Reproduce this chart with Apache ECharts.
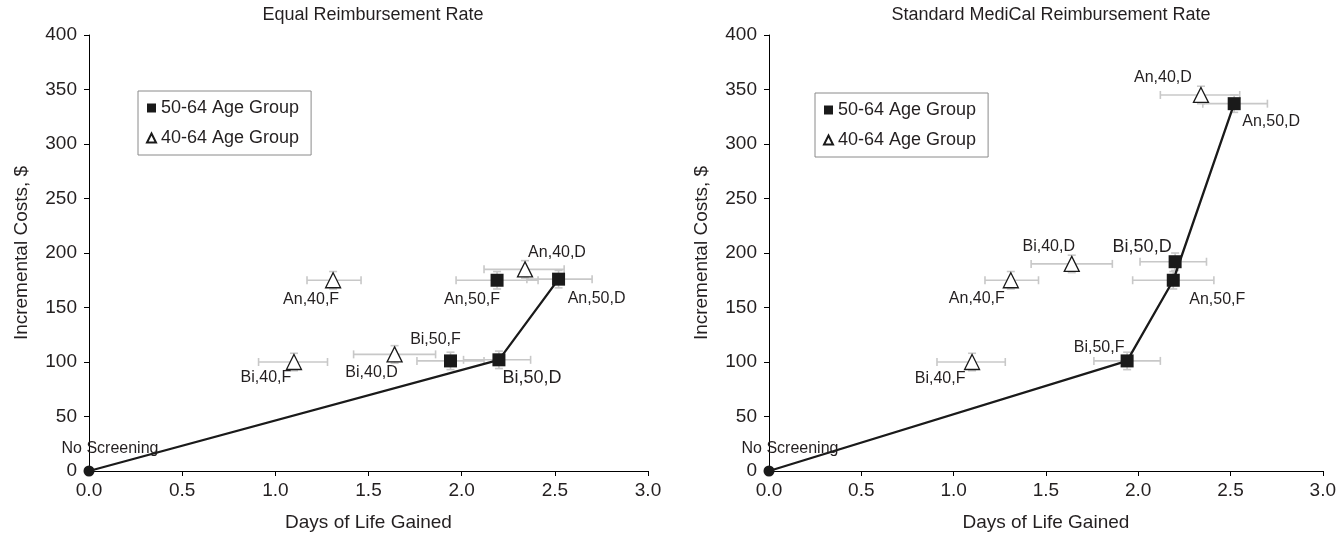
<!DOCTYPE html>
<html>
<head>
<meta charset="utf-8">
<script src="https://cdn.jsdelivr.net/npm/echarts@6/dist/echarts.min.js"></script>
<style>
  html, body { margin: 0; padding: 0; background: #ffffff; }
  #chart { width: 1339px; height: 537px; }
</style>
</head>
<body>
<div id="chart"></div>
<script>
// ---------------- DATA ----------------
const panelTitles = ['Equal Reimbursement Rate', 'Standard MediCal Reimbursement Rate'];
const xAxisName = 'Days of Life Gained';
const yAxisName = 'Incremental Costs, $';
const legendNames = ['50-64 Age Group', '40-64 Age Group'];
const xTicks = [0, 0.5, 1.0, 1.5, 2.0, 2.5, 3.0];
const yTicks = [0, 50, 100, 150, 200, 250, 300, 350, 400];

const baselineName = 'No Screening';
const baselineDays = 0;
const baselineCost = 0;

const strategies50 = ['Bi,50,F', 'Bi,50,D', 'An,50,F', 'An,50,D'];
const days50 = [1.94, 2.20, 2.19, 2.52];
const daysLow50 = [1.76, 2.01, 1.97, 2.35];
const daysHigh50 = [2.12, 2.37, 2.41, 2.70];

const strategies40 = ['Bi,40,F', 'Bi,40,D', 'An,40,F', 'An,40,D'];
const days40 = [1.10, 1.64, 1.31, 2.34];
const daysLow40 = [0.91, 1.42, 1.17, 2.12];
const daysHigh40 = [1.28, 1.86, 1.46, 2.55];

// incremental costs per panel
const equalCost50 = [101, 102, 175, 176];
const equalCost40 = [100, 107, 175, 185];
const medicalCost50 = [101, 192, 175, 337];
const medicalCost40 = [100, 190, 175, 345];
const costErr50 = [8, 8, 8, 8];
const costErr40 = [8, 8, 8, 8];

// efficient frontier (strategy names, in order)
const equalFrontier = ['No Screening', 'Bi,50,D', 'An,50,D'];
const medicalFrontier = ['No Screening', 'Bi,50,F', 'An,50,F', 'An,50,D'];

// ---------------- STYLE / LAYOUT ----------------
const TXT = '#231f20';
const FONT = 'Liberation Sans, Arial, sans-serif';
const grids = [
  { left: 89, top: 35, width: 559, height: 440 },
  { left: 769, top: 35, width: 555, height: 440 }
];
const titleCenters = [368, 1046];
const legendPos = [{ left: 138, top: 91 }, { left: 815, top: 93 }];
// label offsets [dx, dy] relative to the marker centre, per panel
const labelOffsets = [
  {
    'Bi,50,F': [-15, -21], 'Bi,50,D': [33, 18], 'An,50,F': [-25, 19], 'An,50,D': [38, 19],
    'Bi,40,F': [-28, 16], 'Bi,40,D': [-23, 18], 'An,40,F': [-22, 19], 'An,40,D': [32, -17],
    'No Screening': [21, -22]
  },
  {
    'Bi,50,F': [-28, -13], 'Bi,50,D': [-33, -15], 'An,50,F': [44, 19], 'An,50,D': [37, 18],
    'Bi,40,F': [-32, 17], 'Bi,40,D': [-23, -17], 'An,40,F': [-34, 18], 'An,40,D': [-38, -17],
    'No Screening': [21, -22]
  }
];
const bigLabels = ['Bi,50,D'];

const panels = [
  { cost50: equalCost50, cost40: equalCost40, frontier: equalFrontier },
  { cost50: medicalCost50, cost40: medicalCost40, frontier: medicalFrontier }
];

function labelFor(p, name) {
  const off = labelOffsets[p][name];
  return {
    show: true,
    position: 'inside',
    offset: off,
    formatter: name,
    color: TXT,
    textBorderWidth: 0,
    textBorderColor: 'transparent',
    fontFamily: FONT,
    fontSize: bigLabels.indexOf(name) >= 0 ? 18 : 16
  };
}

function errorRender(params, api) {
  const x = api.value(0), y = api.value(1);
  const xl = api.value(2), xh = api.value(3), yl = api.value(4), yh = api.value(5);
  const a = api.coord([xl, y]), b = api.coord([xh, y]);
  const c = api.coord([x, yl]), d = api.coord([x, yh]);
  const cap = 4;
  const style = { stroke: '#c8c8c8', lineWidth: 1.6, fill: null };
  const seg = (x1, y1, x2, y2) => ({ type: 'line', shape: { x1, y1, x2, y2 }, style });
  return {
    type: 'group',
    children: [
      seg(a[0], a[1], b[0], b[1]),
      seg(a[0], a[1] - cap, a[0], a[1] + cap),
      seg(b[0], b[1] - cap, b[0], b[1] + cap),
      seg(c[0], c[1], d[0], d[1]),
      seg(c[0] - cap, c[1], c[0] + cap, c[1]),
      seg(d[0] - cap, d[1], d[0] + cap, d[1])
    ]
  };
}

const option = {
  backgroundColor: '#ffffff',
  animation: false,
  textStyle: { fontFamily: FONT, color: TXT },
  title: panelTitles.map((t, i) => ({
    text: t,
    left: titleCenters[i],
    top: 1,
    textAlign: 'center',
    textStyle: { fontFamily: FONT, fontSize: 18, fontWeight: 'normal', color: TXT }
  })),
  legend: legendPos.map((lp) => ({
    left: lp.left,
    top: lp.top,
    orient: 'vertical',
    data: [
      { name: legendNames[0], icon: 'rect' },
      { name: legendNames[1], icon: 'triangle' }
    ],
    itemWidth: 9,
    itemHeight: 9,
    itemGap: 12,
    padding: [8, 12, 8, 8],
    borderColor: '#8a8a8a',
    borderWidth: 1,
    selectedMode: false,
    textStyle: { fontFamily: FONT, fontSize: 18, color: TXT }
  })),
  grid: grids,
  xAxis: grids.map((g, i) => ({
    type: 'value',
    gridIndex: i,
    min: xTicks[0],
    max: xTicks[xTicks.length - 1],
    interval: xTicks[1] - xTicks[0],
    name: xAxisName,
    nameLocation: 'middle',
    nameGap: 42,
    nameTextStyle: { fontFamily: FONT, fontSize: 19, color: TXT },
    axisLine: { show: true, onZero: false, lineStyle: { color: '#000', width: 1 } },
    axisTick: { show: true, inside: false, length: 5, lineStyle: { color: '#000' } },
    axisLabel: { fontFamily: FONT, fontSize: 19, color: TXT, margin: 10,
      formatter: (v) => v.toFixed(1) },
    splitLine: { show: false }
  })),
  yAxis: grids.map((g, i) => ({
    type: 'value',
    gridIndex: i,
    min: yTicks[0],
    max: yTicks[yTicks.length - 1],
    interval: yTicks[1] - yTicks[0],
    name: yAxisName,
    nameLocation: 'middle',
    nameGap: 58,
    nameTextStyle: { fontFamily: FONT, fontSize: 19, color: TXT },
    axisLine: { show: true, onZero: false, lineStyle: { color: '#000', width: 1 } },
    axisTick: { show: true, inside: false, length: 5, lineStyle: { color: '#000' } },
    axisLabel: { fontFamily: FONT, fontSize: 19, color: TXT, margin: 12 },
    splitLine: { show: false }
  })),
  series: []
};

panels.forEach((pn, p) => {
  const lookup = { 'No Screening': [baselineDays, baselineCost] };
  strategies50.forEach((s, k) => { lookup[s] = [days50[k], pn.cost50[k]]; });
  strategies40.forEach((s, k) => { lookup[s] = [days40[k], pn.cost40[k]]; });

  const errData = [];
  strategies40.forEach((s, k) => errData.push([days40[k], pn.cost40[k], daysLow40[k], daysHigh40[k], pn.cost40[k] - costErr40[k], pn.cost40[k] + costErr40[k]]));
  strategies50.forEach((s, k) => errData.push([days50[k], pn.cost50[k], daysLow50[k], daysHigh50[k], pn.cost50[k] - costErr50[k], pn.cost50[k] + costErr50[k]]));

  option.series.push({
    name: 'error bars ' + p,
    type: 'custom',
    xAxisIndex: p, yAxisIndex: p,
    renderItem: errorRender,
    encode: { x: 0, y: 1 },
    data: errData,
    z: 1,
    silent: true
  });

  option.series.push({
    name: 'frontier ' + p,
    type: 'line',
    xAxisIndex: p, yAxisIndex: p,
    data: pn.frontier.map((n) => lookup[n]),
    showSymbol: false,
    symbol: 'none',
    lineStyle: { color: '#1a1a1a', width: 2.3 },
    z: 2,
    silent: true
  });

  option.series.push({
    name: legendNames[1],
    type: 'scatter',
    xAxisIndex: p, yAxisIndex: p,
    symbol: 'triangle',
    symbolSize: 15,
    itemStyle: { color: '#ffffff', borderColor: '#1a1a1a', borderWidth: 1.3, opacity: 1 },
    data: strategies40.map((s, k) => ({ value: [days40[k], pn.cost40[k]], label: labelFor(p, s) })),
    z: 3
  });

  option.series.push({
    name: legendNames[0],
    type: 'scatter',
    xAxisIndex: p, yAxisIndex: p,
    symbol: 'rect',
    symbolSize: 13,
    itemStyle: { color: '#1a1a1a', opacity: 1 },
    data: strategies50.map((s, k) => ({ value: [days50[k], pn.cost50[k]], label: labelFor(p, s) })),
    z: 4
  });

  option.series.push({
    name: baselineName + ' ' + p,
    type: 'scatter',
    xAxisIndex: p, yAxisIndex: p,
    symbol: 'circle',
    symbolSize: 11,
    clip: false,
    itemStyle: { color: '#1a1a1a', opacity: 1 },
    data: [{ value: [baselineDays, baselineCost], label: labelFor(p, baselineName) }],
    z: 5
  });
});

const chart = echarts.init(document.getElementById('chart'), null, { renderer: 'canvas' });
chart.setOption(option);
</script>
</body>
</html>
